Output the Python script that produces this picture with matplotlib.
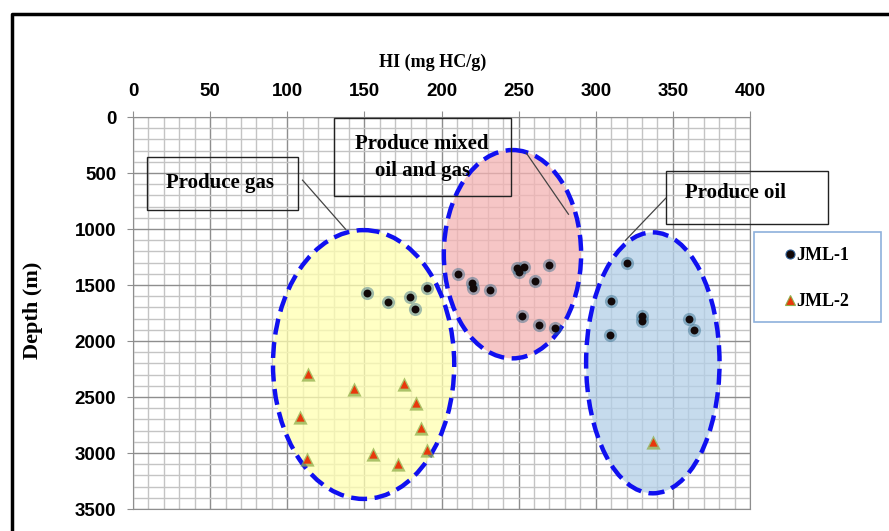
import numpy as np
import matplotlib.pyplot as plt
from matplotlib.patches import Ellipse, Rectangle
from matplotlib.lines import Line2D

# HI (mg HC/g) and depth (m)
jml1_hi = [151.5, 165.0, 179.5, 183.0, 190.5,
           210.5, 219.5, 220.5, 231.5, 249.0, 253.5, 250.5, 260.5, 269.5, 252.0, 263.5, 273.5,
           320.0, 310.0, 330.0, 330.0, 309.0, 360.5, 363.5]
jml1_depth = [1575, 1655, 1610, 1710, 1530,
              1405, 1480, 1525, 1545, 1345, 1340, 1385, 1465, 1325, 1775, 1860, 1885,
              1305, 1640, 1780, 1825, 1945, 1800, 1905]
jml2_hi = [113.5, 143.0, 175.5, 183.5, 108.0, 186.5, 190.5, 112.5, 155.5, 172.0, 337.0]
jml2_depth = [2295, 2425, 2385, 2550, 2675, 2775, 2970, 3055, 3005, 3095, 2905]

# zones (ellipses drawn by hand on the original)
zone_names = ["Produce gas", "Produce mixed\noil and gas", "Produce oil"]
zone_hi = [149.5, 246.0, 337.0]
zone_depth = [2210, 1225, 2195]
zone_w = [117.5, 89.0, 86.5]
zone_h = [2400, 1860, 2330]
zone_fill = ["#ffffb0", "#f4b3b3", "#b3cfe8"]

xticks = [0, 50, 100, 150, 200, 250, 300, 350, 400]
yticks = [0, 500, 1000, 1500, 2000, 2500, 3000, 3500]

serif = "Liberation Serif"
sans = "Liberation Sans"

fig = plt.figure(figsize=(8.89, 5.31), dpi=100)
ax = fig.add_axes([133/889, 1 - 509/531, 617/889, 392/531])

ax.set_xlim(0, 400)
ax.set_ylim(3500, 0)
ax.xaxis.tick_top()
ax.set_xticks(xticks)
ax.set_yticks(yticks)
ax.set_xticks(np.arange(0, 401, 10), minor=True)
ax.set_yticks(np.arange(0, 3501, 100), minor=True)
ax.set_axisbelow(True)
ax.grid(which="minor", color="#c4c4c4", lw=1)
ax.grid(which="major", color="#8e8e8e", lw=1)
ax.tick_params(which="major", length=4.5, color="#8e8e8e", pad=7.5)
ax.tick_params(which="minor", length=0)
for lab in ax.get_xticklabels() + ax.get_yticklabels():
    lab.set_fontfamily(sans)
    lab.set_fontweight("bold")
    lab.set_fontsize(13.5)
for s in ax.spines.values():
    s.set_color("#8e8e8e")

# zones
for i in range(3):
    ax.add_patch(Ellipse((zone_hi[i], zone_depth[i]), zone_w[i], zone_h[i],
                         facecolor=zone_fill[i], edgecolor="none", alpha=0.75, zorder=1))
for i in range(3):
    ax.add_patch(Ellipse((zone_hi[i], zone_depth[i]), zone_w[i], zone_h[i],
                         facecolor="none", edgecolor="#1010f0", lw=3.2,
                         linestyle=(0, (3.6, 1.7)), zorder=2))

# points
ax.scatter(jml1_hi, jml1_depth, s=90, color="#2f6a8a", alpha=0.45, lw=0, zorder=3)
ax.scatter(jml1_hi, jml1_depth, s=32, color="#120808", lw=0, zorder=4)
ax.scatter(jml2_hi, jml2_depth, s=105, marker="^", color="#8fae4a", alpha=0.75, lw=0, zorder=3)
ax.scatter(jml2_hi, jml2_depth, s=36, marker="^", color="#e8380c", lw=0, zorder=4)

# label boxes and leader lines
boxes = [(9.3, 355, 97.6, 478), (130.1, 9, 115.1, 698), (345.4, 483, 105.3, 475)]
text_pos = [(56.3, 585), (187.5, 362), (390.6, 680)]
leaders = [((109.9, 137.9), (564, 1003)), ((255.0, 282.3), (322, 868)), ((345.4, 319.3), (725, 1101))]
for i in range(3):
    x0, y0, w, h = boxes[i]
    ax.add_patch(Rectangle((x0, y0), w, h, facecolor="none", edgecolor="#222222",
                           lw=1.0, zorder=5, clip_on=False))
    ax.text(text_pos[i][0], text_pos[i][1], zone_names[i], ha="center", va="center",
            fontsize=15, fontweight="bold", family=serif, linespacing=1.45, zorder=6)
    ax.plot(leaders[i][0], leaders[i][1], color="#444444", lw=0.9, zorder=5)

fig.text(433/889, 1 - 62/531, "HI (mg HC/g)", ha="center", va="center",
         fontsize=13, fontweight="bold", family=serif)
fig.text(33/889, 1 - 310/531, "Depth (m)", ha="center", va="center", rotation=90,
         fontsize=16, fontweight="bold", family=serif)

# legend
fig.add_artist(Rectangle((754/889, 1 - 322/531), 127/889, 90/531, transform=fig.transFigure,
                         facecolor="white", edgecolor="#8eb0dc", lw=1.2))
h1 = Line2D([], [], marker="o", ls="none", color="#120808", markersize=6.5,
            markeredgecolor="#2f5f95", markeredgewidth=0.8)
h2 = Line2D([], [], marker="^", ls="none", color="#e8380c", markersize=7.5,
            markeredgecolor="#8fae4a", markeredgewidth=0.8)
leg = fig.legend([h1, h2], ["JML-1", "JML-2"], loc="upper left",
                 bbox_to_anchor=(785/889, 1 - 247/531), frameon=False,
                 prop={"family": serif, "weight": "bold", "size": 13},
                 handlelength=0.5, handletextpad=0.15, labelspacing=1.6,
                 borderpad=0, borderaxespad=0)

# outer chart border
fig.add_artist(Line2D([12/889, 12/889, 1.05], [-0.05, 1 - 14/531, 1 - 14/531],
                      transform=fig.transFigure, color="black", lw=2.5))

fig.savefig("out.png", dpi=100)
